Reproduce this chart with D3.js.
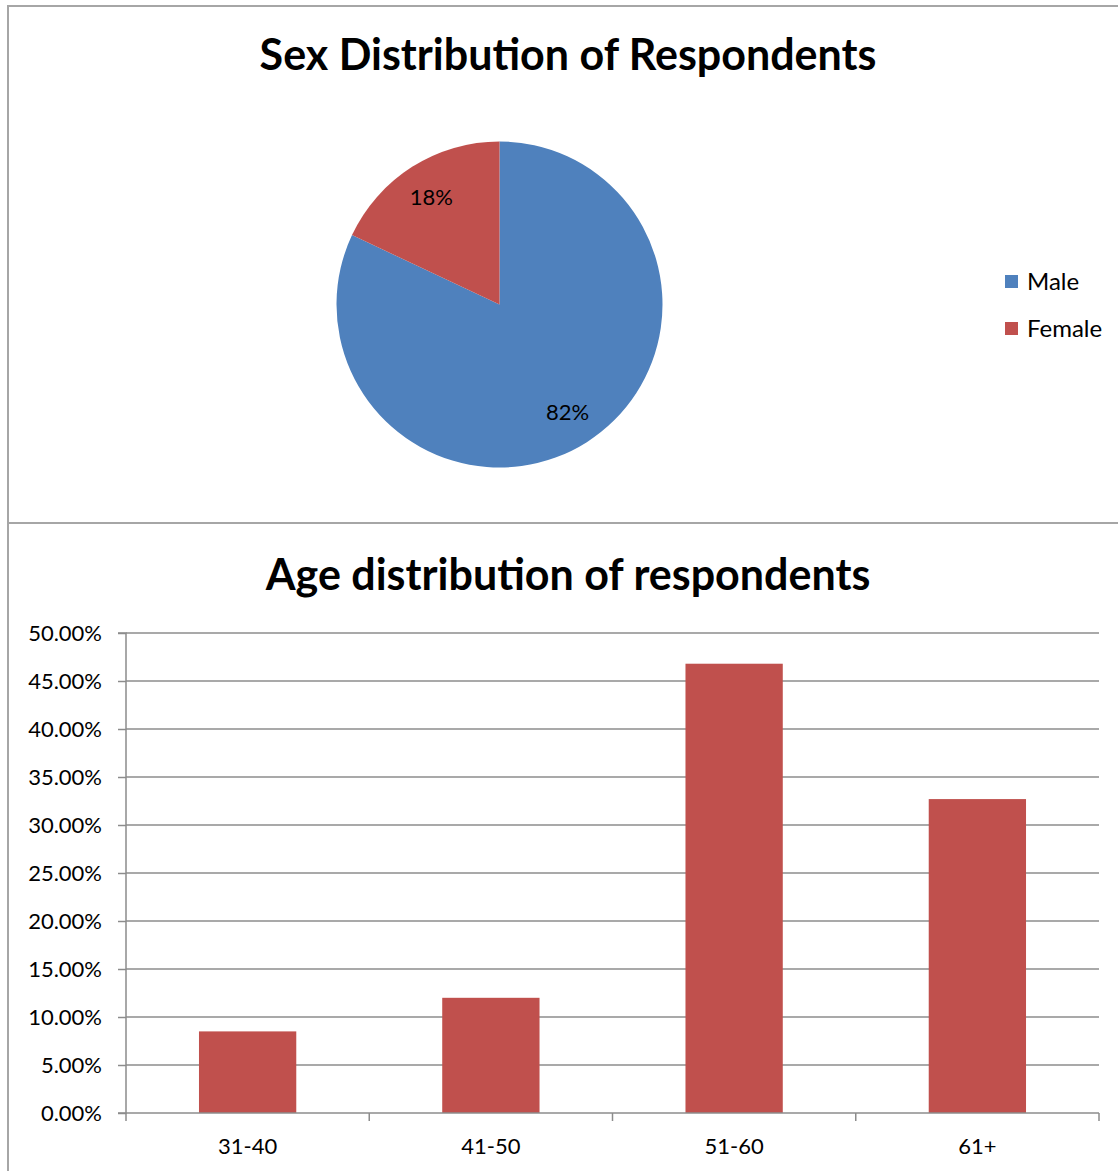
<!DOCTYPE html>
<html><head><meta charset="utf-8">
<script src="https://cdn.jsdelivr.net/npm/d3@7"></script>
<style>
html,body{margin:0;padding:0;background:#fff;}
svg{display:block;font-family:Lato,"Open Sans",sans-serif;}
</style></head>
<body>
<svg id="c" width="1118" height="1171"></svg>
<script>
// ---- data ----
const sexCategories = ["Male", "Female"];
const sexValues = [82, 18];
const sexColors = ["#4F81BD", "#C0504D"];

const ageCategories = ["31-40", "41-50", "51-60", "61+"];
const ageValues = [8.5, 12.0, 46.8, 32.7];
const ageTicks = [0, 5, 10, 15, 20, 25, 30, 35, 40, 45, 50];
const barColor = "#C0504D";

const svg = d3.select("#c");
const borderColor = "#A6A6A6";
const gridColor = "#8C8C8C";

// frame lines
svg.append("line").attr("x1", 8).attr("x2", 1118).attr("y1", 6).attr("y2", 6)
  .attr("stroke", borderColor).attr("stroke-width", 2);
svg.append("line").attr("x1", 8).attr("x2", 8).attr("y1", 5).attr("y2", 1171)
  .attr("stroke", borderColor).attr("stroke-width", 2);
svg.append("line").attr("x1", 8).attr("x2", 1118).attr("y1", 523).attr("y2", 523)
  .attr("stroke", borderColor).attr("stroke-width", 2);

// ---- pie chart ----
svg.append("text").attr("x", 568).attr("y", 70).attr("text-anchor", "middle")
  .attr("font-size", 43).attr("font-weight", "bold").attr("fill", "#000")
  .text("Sex Distribution of Respondents");

const cx = 499.5, cy = 304.5, r = 163;
const pie = d3.pie().sort(null).value(d => d)(sexValues);
const arc = d3.arc().innerRadius(0).outerRadius(r);
const pg = svg.append("g").attr("transform", `translate(${cx},${cy})`);
pg.selectAll("path").data(pie).join("path")
  .attr("d", arc).attr("fill", (d, i) => sexColors[i]);
const labelArc = d3.arc().innerRadius(r * 0.78).outerRadius(r * 0.78);
pg.selectAll("text").data(pie).join("text")
  .attr("transform", d => `translate(${labelArc.centroid(d)})`)
  .attr("text-anchor", "middle").attr("dy", "0.35em")
  .attr("font-size", 22).attr("fill", "#000")
  .text(d => d.data + "%");

// legend
const lg = svg.append("g");
sexCategories.forEach((c, i) => {
  const y = 282 + i * 47;
  lg.append("rect").attr("x", 1005).attr("y", y - 7).attr("width", 13).attr("height", 13)
    .attr("fill", sexColors[i]);
  lg.append("text").attr("x", 1027).attr("y", y).attr("dy", "0.35em")
    .attr("font-size", 24).attr("fill", "#000").text(c);
});

// ---- bar chart ----
svg.append("text").attr("x", 568).attr("y", 590).attr("text-anchor", "middle")
  .attr("font-size", 43).attr("font-weight", "bold").attr("fill", "#000")
  .text("Age distribution of respondents");

const x0 = 126, x1 = 1099, yTop = 633, yBot = 1113;
const x = d3.scaleBand().domain(ageCategories).range([x0, x1]).paddingInner(0.6).paddingOuter(0.3);
const y = d3.scaleLinear().domain([0, 50]).range([yBot, yTop]);

// gridlines
svg.append("g").selectAll("line").data(ageTicks.filter(t => t > 0)).join("line")
  .attr("x1", x0).attr("x2", x1).attr("y1", d => y(d)).attr("y2", d => y(d))
  .attr("stroke", gridColor).attr("stroke-width", 1.5);

// bars
svg.append("g").selectAll("rect").data(ageValues).join("rect")
  .attr("x", (d, i) => x(ageCategories[i]))
  .attr("width", x.bandwidth())
  .attr("y", d => y(d)).attr("height", d => yBot - y(d))
  .attr("fill", barColor);

// y axis
const yAxis = d3.axisLeft(y).tickValues(ageTicks).tickSize(8).tickPadding(16)
  .tickFormat(d => d.toFixed(2) + "%");
const ya = svg.append("g").attr("transform", `translate(${x0},0)`).call(yAxis);
ya.select(".domain").attr("stroke", gridColor).attr("stroke-width", 1.5).attr("d", `M-8,${yTop}H0V${yBot}H-8`);
ya.selectAll(".tick line").attr("stroke", gridColor).attr("stroke-width", 1.5);
ya.selectAll(".tick text").attr("font-size", 22).attr("font-family", "Lato").attr("fill", "#000");

// x axis
const xPoint = d3.scaleLinear().domain([0, ageCategories.length]).range([x0, x1]);
const xa = svg.append("g");
xa.append("line").attr("x1", x0).attr("x2", x1).attr("y1", yBot).attr("y2", yBot)
  .attr("stroke", gridColor).attr("stroke-width", 1.5);
xa.selectAll("line.t").data(d3.range(ageCategories.length + 1)).join("line").attr("class", "t")
  .attr("x1", d => xPoint(d)).attr("x2", d => xPoint(d)).attr("y1", yBot).attr("y2", yBot + 8)
  .attr("stroke", gridColor).attr("stroke-width", 1.5);
xa.selectAll("text").data(ageCategories).join("text")
  .attr("x", d => x(d) + x.bandwidth() / 2).attr("y", 1146).attr("dy", "0.35em")
  .attr("text-anchor", "middle").attr("font-size", 22).attr("fill", "#000").text(d => d);
</script>
</body></html>
